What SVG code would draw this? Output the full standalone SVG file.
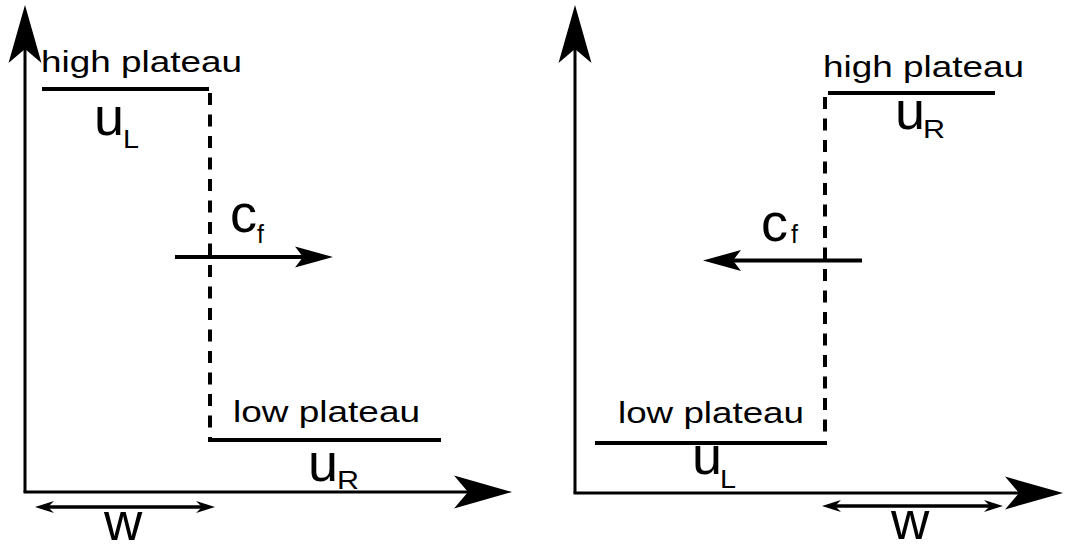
<svg xmlns="http://www.w3.org/2000/svg" xmlns:xlink="http://www.w3.org/1999/xlink" width="1067" height="549" viewBox="0 0 1067 549">
<style>
.ax{stroke:#000;stroke-width:3;fill:none}
.pl{stroke:#000;stroke-width:4;fill:none}
.ds{stroke:#000;stroke-width:4;fill:none;stroke-dasharray:12 9.5}
.ar{stroke:#000;stroke-width:4;fill:none}
.wa{stroke:#000;stroke-width:3.5;fill:none}
.hd{fill:#000;stroke:none}
text{font-family:"Liberation Sans",Arial,sans-serif;fill:#000}
.lb{font-size:30px}
.big{font-size:54px}
.sub{font-size:25px}
.w{font-size:53px}
</style>
<defs>
<path id="bigHead" d="M0,0 L-58,-16.5 L-44,0 L-58,16.5 Z"/>
<path id="midHead" d="M0,0 L-38,-10.5 L-30,0 L-38,10.5 Z"/>
<path id="smallHead" d="M0,0 L-19,-6 L-13,0 L-19,6 Z"/>
</defs>
<g id="connectors">
<g id="left-axes">
<path class="ax" d="M25,492 L25,30"/>
<use xlink:href="#bigHead" class="hd" transform="translate(25,5) rotate(-90)"/>
<path class="ax" d="M23.5,492 L480,492"/>
<use xlink:href="#bigHead" class="hd" transform="translate(512,492)"/>
</g>
<g id="right-axes">
<path class="ax" d="M575,493 L575,30"/>
<use xlink:href="#bigHead" class="hd" transform="translate(575,5) rotate(-90)"/>
<path class="ax" d="M573.5,493 L1030,493"/>
<use xlink:href="#bigHead" class="hd" transform="translate(1063,493)"/>
</g>
<g id="left-front">
<path class="ds" d="M210,93 L210,440"/>
</g>
<g id="right-front">
<path class="ds" d="M825,97 L825,443"/>
</g>
<g id="left-cf-arrow">
<path class="ar" d="M175,257 L305,257"/>
<use xlink:href="#midHead" class="hd" transform="translate(333,257)"/>
</g>
<g id="right-cf-arrow">
<path class="ar" d="M862,260.5 L730,260.5"/>
<use xlink:href="#midHead" class="hd" transform="translate(703,260.5) rotate(180)"/>
</g>
<g id="left-w-arrow">
<path class="wa" d="M45,507 L205,507"/>
<use xlink:href="#smallHead" class="hd" transform="translate(35,507) rotate(180)"/>
<use xlink:href="#smallHead" class="hd" transform="translate(215,507)"/>
</g>
<g id="right-w-arrow">
<path class="wa" d="M832,506 L993,506"/>
<use xlink:href="#smallHead" class="hd" transform="translate(822,506) rotate(180)"/>
<use xlink:href="#smallHead" class="hd" transform="translate(1003,506)"/>
</g>
</g>
<g id="left-high-plateau">
<path class="pl" d="M42,89 L209,89"/>
<text class="lb" x="41" y="72" textLength="201" lengthAdjust="spacingAndGlyphs">high plateau</text>
<text class="big" x="94" y="135">u</text>
<text class="sub" x="123" y="148" textLength="16" lengthAdjust="spacingAndGlyphs">L</text>
</g>
<g id="left-low-plateau">
<path class="pl" d="M208,440 L441,440"/>
<text class="lb" x="233" y="422" textLength="187" lengthAdjust="spacingAndGlyphs">low plateau</text>
<text class="big" x="308" y="481">u</text>
<text class="sub" x="337" y="489" textLength="22" lengthAdjust="spacingAndGlyphs">R</text>
</g>
<g id="left-cf">
<text class="big" x="230" y="232">c</text>
<text class="sub" x="257" y="243">f</text>
</g>
<g id="left-w">
<text class="w" x="104" y="540">w</text>
</g>
<g id="right-high-plateau">
<path class="pl" d="M828,93 L995,93"/>
<text class="lb" x="823" y="77" textLength="201" lengthAdjust="spacingAndGlyphs">high plateau</text>
<text class="big" x="895" y="129">u</text>
<text class="sub" x="923" y="138" textLength="22" lengthAdjust="spacingAndGlyphs">R</text>
</g>
<g id="right-low-plateau">
<path class="pl" d="M595,443 L827,443"/>
<text class="lb" x="618" y="423" textLength="186" lengthAdjust="spacingAndGlyphs">low plateau</text>
<text class="big" x="692" y="474">u</text>
<text class="sub" x="720" y="488" textLength="16" lengthAdjust="spacingAndGlyphs">L</text>
</g>
<g id="right-cf">
<text class="big" x="761" y="241">c</text>
<text class="sub" x="791" y="243">f</text>
</g>
<g id="right-w">
<text class="w" x="891" y="539">w</text>
</g>
</svg>
